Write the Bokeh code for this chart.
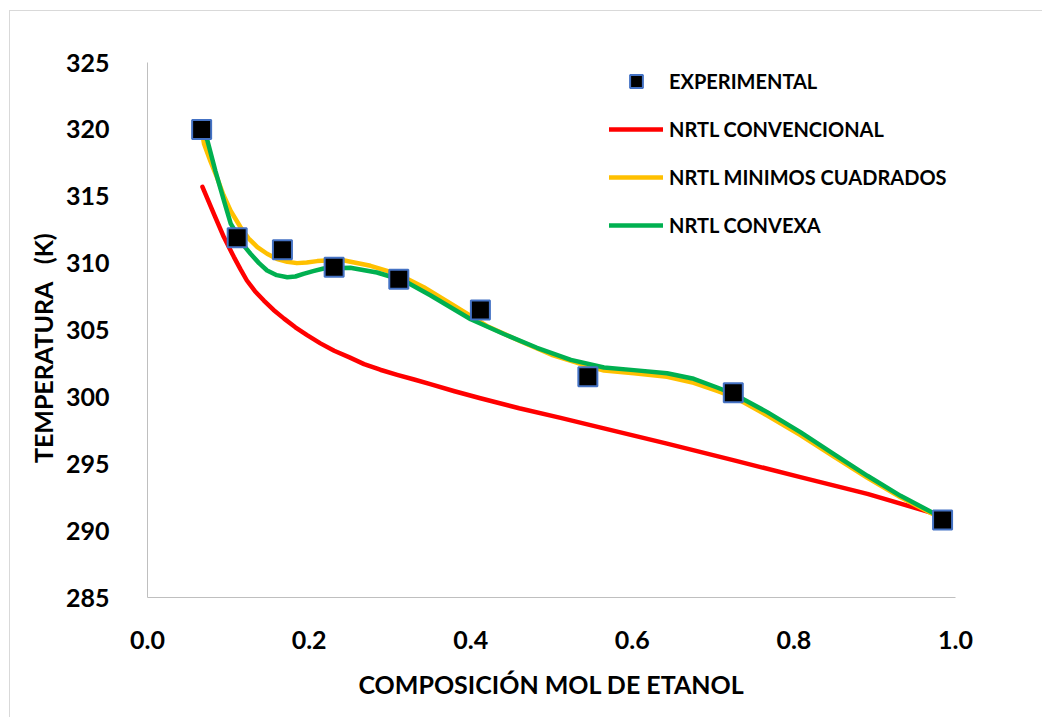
from bokeh.plotting import figure
from bokeh.models import (FixedTicker, CustomJSTickFormatter, Legend, LegendItem,
                          Range1d)
from bokeh.embed import file_html
from bokeh.resources import INLINE

# Experimental liquid-liquid equilibrium points (ethanol mole fraction vs T)
exp_x = [0.067, 0.111, 0.167, 0.231, 0.311, 0.412, 0.545, 0.725, 0.984]
exp_t = [320.0, 311.9, 311.0, 309.7, 308.8, 306.5, 301.5, 300.3, 290.8]

# NRTL model, conventional parameters
conv_x = [0.068, 0.082, 0.0945, 0.107, 0.115, 0.123, 0.133, 0.144, 0.156, 0.169,
          0.183, 0.198, 0.214, 0.231, 0.250, 0.268, 0.288, 0.309, 0.330, 0.350,
          0.380, 0.412, 0.460, 0.510, 0.561, 0.643, 0.726, 0.808, 0.891, 0.978]
conv_t = [315.7, 313.7, 311.95, 310.45, 309.55, 308.7, 307.9, 307.2, 306.5, 305.85,
          305.2, 304.6, 304.0, 303.45, 302.95, 302.45, 302.03, 301.65, 301.3, 300.95,
          300.42, 299.9, 299.15, 298.45, 297.7, 296.5, 295.25, 294.0, 292.75, 291.2]

# NRTL model, least-squares parameters
mc_x = [0.067, 0.070, 0.078, 0.086, 0.094, 0.103, 0.115, 0.125, 0.136, 0.148,
        0.1605, 0.173, 0.185, 0.197, 0.210, 0.239, 0.276, 0.309, 0.342, 0.380,
        0.420, 0.460, 0.500, 0.545, 0.565, 0.602, 0.643, 0.676, 0.705, 0.726,
        0.767, 0.808, 0.849, 0.891, 0.932, 0.973, 0.984]
mc_t = [320.0, 318.9, 317.6, 316.4, 315.1, 313.9, 312.7, 311.85, 311.2, 310.7,
        310.3, 310.1, 310.0, 310.05, 310.15, 310.25, 309.8, 309.2, 308.2, 306.8,
        305.3, 304.2, 303.15, 302.3, 301.97, 301.77, 301.5, 301.05, 300.45, 299.98,
        298.6, 297.15, 295.55, 293.95, 292.5, 291.2, 290.83]

# NRTL model, convex optimisation parameters
cvx_x = [0.067, 0.074, 0.084, 0.0945, 0.103, 0.113, 0.120, 0.1275, 0.138, 0.148,
         0.160, 0.173, 0.183, 0.193, 0.205, 0.218, 0.251, 0.284, 0.317, 0.350,
         0.400, 0.441, 0.482, 0.524, 0.565, 0.602, 0.643, 0.676, 0.705, 0.726,
         0.767, 0.808, 0.849, 0.891, 0.932, 0.973, 0.984]
cvx_t = [320.0, 319.2, 316.9, 314.7, 312.95, 311.95, 311.25, 310.7, 310.0, 309.45,
         309.1, 308.95, 309.0, 309.2, 309.4, 309.6, 309.65, 309.3, 308.7, 307.6,
         305.8, 304.7, 303.67, 302.77, 302.2, 302.0, 301.77, 301.35, 300.7, 300.2,
         298.86, 297.36, 295.74, 294.1, 292.6, 291.3, 290.83]

x_ticks = [0.0, 0.2, 0.4, 0.6, 0.8, 1.0]
y_ticks = [285, 290, 295, 300, 305, 310, 315, 320, 325]

FONT = "Lato"

p = figure(width=1042, height=717, output_backend="svg", toolbar_location=None,
           x_range=Range1d(0, 1), y_range=Range1d(285, 325),
           frame_width=808, frame_height=535,
           min_border_left=147, min_border_right=87,
           min_border_top=62, min_border_bottom=120)
p.outline_line_color = None
p.xgrid.visible = False
p.ygrid.visible = False
p.background_fill_color = "white"
p.border_fill_alpha = 0
# light frame around the chart area (left and top edges fall inside the page)
p.styles = {"box-shadow": "inset 9px 10px 0 0 #ffffff, inset 10px 11px 0 0 #d9d9d9",
            "background-color": "#ffffff"}

for ax in (p.xaxis[0], p.yaxis[0]):
    ax.axis_line_color = "#bfbfbf"
    ax.axis_line_width = 1
    ax.major_tick_line_color = None
    ax.minor_tick_line_color = None
    ax.major_label_text_font = FONT
    ax.major_label_text_font_style = "bold"
    ax.major_label_text_font_size = "25px"
    ax.major_label_text_color = "black"
    ax.axis_label_text_font = FONT
    ax.axis_label_text_font_style = "bold"
    ax.axis_label_text_font_size = "25px"
    ax.axis_label_text_color = "black"

p.xaxis.ticker = FixedTicker(ticks=x_ticks)
p.xaxis.formatter = CustomJSTickFormatter(code="return tick.toFixed(1);")
p.xaxis.major_label_standoff = 27
p.xaxis.axis_label = "COMPOSICIÓN MOL DE ETANOL"
p.xaxis.axis_label_standoff = 17

p.yaxis.ticker = FixedTicker(ticks=y_ticks)
p.yaxis.major_label_standoff = 32
p.yaxis.axis_label = "TEMPERATURA\u00a0\u00a0\u00a0(K)" + "\u00a0" * 6
p.yaxis.axis_label_standoff = 5

r_conv = p.line(conv_x, conv_t, line_color="#ff0000", line_width=4.5,
                line_cap="round", line_join="round")
r_mc = p.line(mc_x, mc_t, line_color="#ffc000", line_width=4.5,
              line_cap="round", line_join="round")
r_cvx = p.line(cvx_x, cvx_t, line_color="#00b050", line_width=4.5,
               line_cap="round", line_join="round")
r_exp = p.scatter(exp_x, exp_t, marker="square", size=19, fill_color="black",
                  line_color="#4472c4", line_width=2)

legend = Legend(items=[
    LegendItem(label="EXPERIMENTAL", renderers=[r_exp]),
    LegendItem(label="NRTL CONVENCIONAL", renderers=[r_conv]),
    LegendItem(label="NRTL MINIMOS CUADRADOS", renderers=[r_mc]),
    LegendItem(label="NRTL CONVEXA", renderers=[r_cvx]),
], location=(462, 356))
legend.border_line_alpha = 0
legend.background_fill_alpha = 0
legend.padding = 0
legend.margin = 0
legend.glyph_width = 54
legend.glyph_height = 32
legend.label_height = 32
legend.spacing = 16
legend.label_standoff = 6
legend.label_text_font = FONT
legend.label_text_font_style = "bold"
legend.label_text_font_size = "20px"
legend.label_text_color = "black"
p.add_layout(legend, "center")

open("out.html", "w").write(file_html(p, INLINE))
